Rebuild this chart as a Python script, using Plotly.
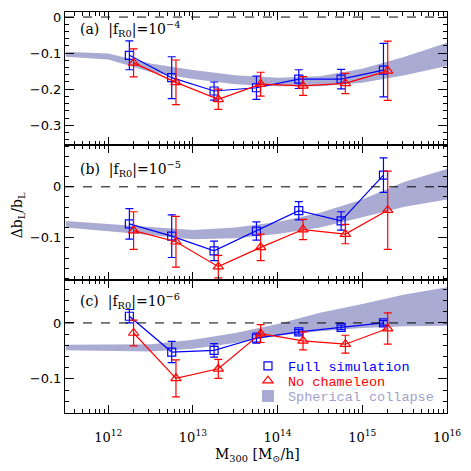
import plotly.graph_objects as go
from plotly.subplots import make_subplots

# log10 mass of the bins (full sim slightly left of no-chameleon)
logm_full = [12.25, 12.75, 13.25, 13.75, 14.25, 14.75, 15.25]
logm_nocham = [12.30, 12.80, 13.30, 13.80, 14.30, 14.80, 15.30]

# panel (a) |fR0| = 1e-4
full_a = [-0.106, -0.168, -0.205, -0.196, -0.172, -0.172, -0.147]
full_a_err = [0.040, 0.058, 0.025, 0.032, 0.026, 0.027, 0.074]
nocham_a = [-0.127, -0.181, -0.228, -0.186, -0.191, -0.184, -0.149]
nocham_a_err = [0.039, 0.062, 0.028, 0.033, 0.026, 0.028, 0.082]

# panel (b) |fR0| = 1e-5
full_b = [-0.073, -0.097, -0.126, -0.087, -0.047, -0.067, 0.023]
full_b_err = [0.030, 0.042, 0.019, 0.018, 0.018, 0.018, 0.034]
nocham_b = [-0.086, -0.108, -0.157, -0.119, -0.084, -0.093, -0.046]
nocham_b_err = [0.037, 0.050, 0.022, 0.026, 0.020, 0.019, 0.077]

# panel (c) |fR0| = 1e-6
full_c = [0.012, -0.052, -0.049, -0.027, -0.016, -0.008, 0.000]
full_c_err = [0.012, 0.019, 0.012, 0.009, 0.004, 0.004, 0.004]
nocham_c = [-0.018, -0.099, -0.082, -0.019, -0.032, -0.038, -0.010]
nocham_c_err = [0.023, 0.033, 0.017, 0.016, 0.016, 0.016, 0.028]

# spherical collapse band
logm_band = [11.5, 12.0, 12.5, 13.0, 13.5, 14.0, 14.5, 15.0, 15.5, 16.0]
band_a_lo = [-0.110, -0.118, -0.152, -0.172, -0.186, -0.192, -0.192, -0.182, -0.161, -0.136]
band_a_hi = [-0.096, -0.101, -0.129, -0.147, -0.161, -0.168, -0.164, -0.143, -0.110, -0.071]
band_b_lo = [-0.080, -0.087, -0.095, -0.103, -0.101, -0.093, -0.080, -0.060, -0.039, -0.025]
band_b_hi = [-0.067, -0.073, -0.080, -0.085, -0.080, -0.069, -0.051, -0.025, 0.010, 0.035]
band_c_lo = [-0.049, -0.050, -0.051, -0.046, -0.036, -0.023, -0.015, -0.009, -0.006, -0.005]
band_c_hi = [-0.039, -0.039, -0.038, -0.030, -0.018, -0.002, 0.018, 0.034, 0.051, 0.064]

x_tick_exp = [12, 13, 14, 15, 16]
panel_labels = ["(a)  |f<sub>R0</sub>|=10<sup>\u22124</sup>",
                "(b)  |f<sub>R0</sub>|=10<sup>\u22125</sup>",
                "(c)  |f<sub>R0</sub>|=10<sup>\u22126</sup>"]

BLUE = "#0000ff"
RED = "#ff0000"
BAND = "rgb(170,171,210)"
SERIF = "DejaVu Serif"

m_full = [10 ** v for v in logm_full]
m_nocham = [10 ** v for v in logm_nocham]
m_band = [10 ** v for v in logm_band]

fig = make_subplots(rows=3, cols=1, shared_xaxes=True, vertical_spacing=0)

panels = [
    (full_a, full_a_err, nocham_a, nocham_a_err, band_a_lo, band_a_hi),
    (full_b, full_b_err, nocham_b, nocham_b_err, band_b_lo, band_b_hi),
    (full_c, full_c_err, nocham_c, nocham_c_err, band_c_lo, band_c_hi),
]

for i, (fy, fe, ny, ne, blo, bhi) in enumerate(panels):
    row = i + 1
    fig.add_trace(go.Scatter(x=m_band, y=blo, mode='lines', line=dict(width=0, color=BAND),
                             showlegend=False, hoverinfo='skip'), row=row, col=1)
    fig.add_trace(go.Scatter(x=m_band, y=bhi, mode='lines', line=dict(width=0, color=BAND),
                             fill='tonexty', fillcolor=BAND, showlegend=False,
                             hoverinfo='skip'), row=row, col=1)
    fig.add_hline(y=0, line=dict(color='black', width=1, dash='dash'), row=row, col=1)
    fig.add_trace(go.Scatter(
        x=m_full, y=fy, mode='lines+markers',
        line=dict(color=BLUE, width=1.2),
        marker=dict(symbol='square-open', size=8, color=BLUE, line=dict(width=1.2)),
        error_y=dict(type='data', array=fe, color=BLUE, thickness=1.2, width=4),
        showlegend=False), row=row, col=1)
    fig.add_trace(go.Scatter(
        x=m_nocham, y=ny, mode='lines+markers',
        line=dict(color=RED, width=1.2),
        marker=dict(symbol='triangle-up-open', size=9, color=RED, line=dict(width=1.2)),
        error_y=dict(type='data', array=ne, color=RED, thickness=1.2, width=4),
        showlegend=False), row=row, col=1)

# legend entries, one legend box per row so the spacing can match
fig.add_trace(go.Scatter(x=[None], y=[None], mode='markers', legend='legend',
                         marker=dict(symbol='square-open', size=8, color=BLUE, line=dict(width=1.2)),
                         name='<span style="color:#0000ff">Full simulation</span>'), row=3, col=1)
fig.add_trace(go.Scatter(x=[None], y=[None], mode='markers', legend='legend2',
                         marker=dict(symbol='triangle-up-open', size=9, color=RED, line=dict(width=1.2)),
                         name='<span style="color:#ff0000">No chameleon</span>'), row=3, col=1)
fig.add_trace(go.Scatter(x=[None], y=[None], mode='markers', legend='legend3',
                         marker=dict(symbol='square', size=12, color=BAND),
                         name='<span style="color:rgb(160,161,205)">Spherical collapse</span>'), row=3, col=1)

major_x = [10 ** e for e in x_tick_exp]
major_text = ['10<sup>%d</sup>' % e for e in x_tick_exp]
minor_x = [k * 10 ** e for e in range(11, 16) for k in range(2, 10)]
yranges = [[-0.355, 0.014], [-0.183, 0.082], [-0.161, 0.077]]
domains = [[0.668, 1.0], [0.332, 0.668], [0.0, 0.332]]

for i in range(3):
    row = i + 1
    fig.update_xaxes(type='log', range=[11.49, 16], tickmode='array', tickvals=major_x,
                     ticktext=major_text, ticks='inside', ticklen=8, tickwidth=1,
                     tickcolor='black', showline=True, linecolor='black', linewidth=1,
                     mirror='ticks', showgrid=False, zeroline=False, automargin=False,
                     showticklabels=(row == 3), ticklabelstandoff=12,
                     tickfont=dict(family=SERIF, size=13, color='black'),
                     minor=dict(tickmode='array', tickvals=minor_x, ticks='inside',
                                ticklen=4, tickcolor='black', showgrid=False),
                     row=row, col=1)
    fig.update_yaxes(range=yranges[i], dtick=0.1, tick0=0, ticks='inside', ticklen=9,
                     tickwidth=1, tickcolor='black', showline=True, linecolor='black',
                     linewidth=1, mirror='ticks', showgrid=False, zeroline=False,
                     automargin=False,
                     tickfont=dict(family='DejaVu Sans', size=13, color='black'),
                     minor=dict(dtick=0.02, ticks='inside', ticklen=4, tickcolor='black',
                                showgrid=False),
                     domain=domains[i], row=row, col=1)

label_y = [0.965, 0.91, 0.93]
for i in range(3):
    suffix = '' if i == 0 else str(i + 1)
    fig.add_annotation(text=panel_labels[i], xref='x%s domain' % suffix,
                       yref='y%s domain' % suffix, x=0.035, y=label_y[i],
                       xanchor='left', yanchor='top', showarrow=False,
                       font=dict(family=SERIF, size=14, color='black'))

fig.add_annotation(text='\u0394b<sub>L</sub>/b<sub>L</sub>', xref='paper', yref='paper',
                   x=-0.122, y=0.494, xanchor='center', yanchor='middle',
                   textangle=-90, showarrow=False,
                   font=dict(family=SERIF, size=14, color='black'))
fig.add_annotation(text='M<sub>300</sub> [M<sub>\u2299</sub>/h]', xref='paper', yref='paper',
                   x=0.503, y=-0.105, xanchor='center', yanchor='middle', showarrow=False,
                   font=dict(family=SERIF, size=14, color='black'))

leg_common = dict(x=0.479, xanchor='left', yanchor='middle', bgcolor='rgba(0,0,0,0)',
                  font=dict(family='Liberation Mono', size=13.5), itemwidth=30)
# the page body adds an 8px offset, so the figure is drawn 8px smaller
fig.update_layout(
    width=455, height=455,
    margin=dict(l=57, r=16, t=4, b=50, autoexpand=False),
    plot_bgcolor='white', paper_bgcolor='white',
    legend=dict(y=0.117, **leg_common),
    legend2=dict(y=0.080, **leg_common),
    legend3=dict(y=0.042, **leg_common),
)

fig.write_html("out.html")
